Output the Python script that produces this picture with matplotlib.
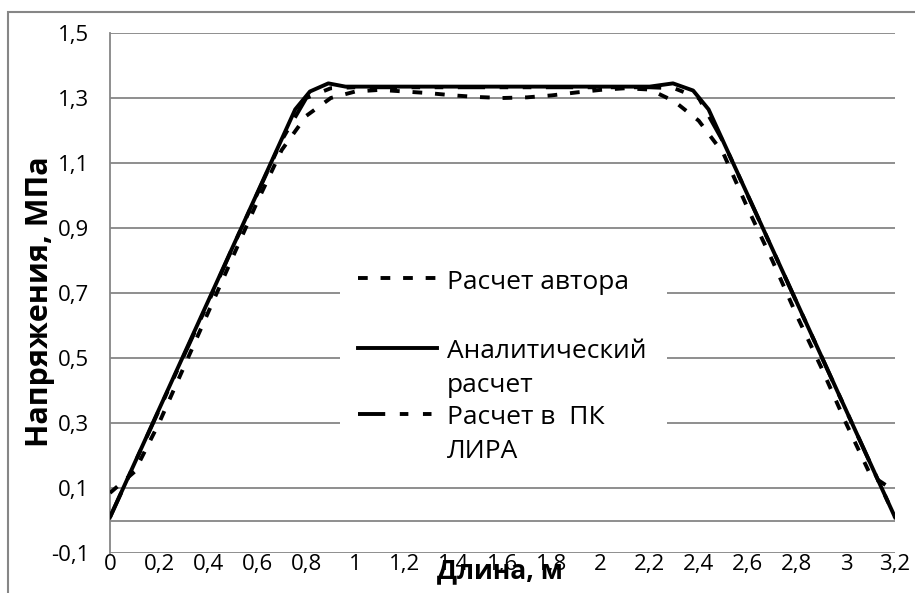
import matplotlib
import matplotlib.pyplot as plt
from matplotlib.patches import Rectangle
from matplotlib.legend_handler import HandlerLine2D
matplotlib.use('Agg')

# Расчет автора
x_author = [0, 0.1, 0.2, 0.3, 0.4, 0.5, 0.6, 0.7, 0.8, 0.9, 1.0, 1.1,
            1.2, 1.3, 1.4, 1.5, 1.6, 1.7, 1.8, 1.9, 2.0, 2.1, 2.2, 2.3,
            2.4, 2.5, 2.6, 2.7, 2.8, 2.9, 3.0, 3.1, 3.2]
y_author = [0.085, 0.15, 0.30, 0.47, 0.64, 0.81, 0.98, 1.14, 1.245, 1.30,
            1.32, 1.325, 1.32, 1.315, 1.308, 1.303, 1.30, 1.302, 1.308,
            1.317, 1.325, 1.33, 1.326, 1.29, 1.23, 1.13, 0.96, 0.80, 0.63,
            0.47, 0.30, 0.14, 0.09]

# Аналитический расчет
x_anal = [0, 0.755, 0.815, 0.89, 0.96, 1.6, 2.2, 2.295, 2.377, 2.44, 3.2]
y_anal = [0.01, 1.265, 1.32, 1.345, 1.335, 1.335, 1.335, 1.345, 1.323,
          1.265, 0.01]

# Расчет в ПК ЛИРА
x_lira = [0, 0.1, 0.2, 0.3, 0.4, 0.5, 0.6, 0.7, 0.8, 0.9, 1.0, 1.6,
          2.2, 2.3, 2.4, 2.5, 2.6, 2.7, 2.8, 2.9, 3.0, 3.1, 3.2]
y_lira = [0.01, 0.175, 0.34, 0.505, 0.67, 0.84, 1.005, 1.17, 1.30, 1.33,
          1.333, 1.333, 1.333, 1.33, 1.30, 1.165, 1.0, 0.835, 0.67, 0.505,
          0.34, 0.175, 0.01]

x_ticks = [0, 0.2, 0.4, 0.6, 0.8, 1, 1.2, 1.4, 1.6, 1.8, 2, 2.2, 2.4,
           2.6, 2.8, 3, 3.2]
x_labels = ['0', '0,2', '0,4', '0,6', '0,8', '1', '1,2', '1,4', '1,6',
            '1,8', '2', '2,2', '2,4', '2,6', '2,8', '3', '3,2']
y_ticks = [-0.1, 0.1, 0.3, 0.5, 0.7, 0.9, 1.1, 1.3, 1.5]
y_labels = ['-0,1', '0,1', '0,3', '0,5', '0,7', '0,9', '1,1', '1,3', '1,5']

series_labels = ['Расчет автора', 'Аналитический\nрасчет',
                 'Расчет в  ПК\nЛИРА']


class FirstLineHandler(HandlerLine2D):
    # keeps the legend key level with the first line of a wrapped label
    def __init__(self, shift=0.0, **kw):
        super().__init__(**kw)
        self.shift = shift

    def create_artists(self, legend, orig_handle, xdescent, ydescent,
                       width, height, fontsize, trans):
        arts = super().create_artists(legend, orig_handle, xdescent,
                                      ydescent, width, height, fontsize,
                                      trans)
        for a in arts:
            a.set_ydata([y + self.shift for y in a.get_ydata()])
        return arts


def main():
    plt.rcParams['font.family'] = ['Open Sans', 'DejaVu Sans']
    grey = '#868686'

    fig = plt.figure(figsize=(9.15, 5.93), dpi=100)
    fig.patches.append(Rectangle((8 / 915, -0.1), 1.2, 1.08,
                                 transform=fig.transFigure, fill=False,
                                 edgecolor=grey, lw=1.5))
    ax = fig.add_axes([110 / 915, 1 - 553 / 593, 785 / 915, 520 / 593])

    lw = 2.8
    styles = [dict(dashes=(2.5, 3.3)), dict(),
              dict(dashes=(7, 3.75, 2.2, 3.75, 2.2, 3.75))]
    lines = []
    for xs, ys, st, lab, z in zip([x_author, x_anal, x_lira],
                                  [y_author, y_anal, y_lira],
                                  styles, series_labels, [3, 4, 3]):
        ln, = ax.plot(xs, ys, color='black', lw=lw, label=lab, zorder=z,
                      **st)
        lines.append(ln)

    ax.set_xlim(0, 3.2)
    ax.set_ylim(-0.1, 1.5)
    ax.set_xticks(x_ticks, labels=x_labels)
    ax.set_yticks(y_ticks, labels=y_labels)
    ax.tick_params(length=0, labelsize=16, colors='black')
    ax.tick_params(axis='y', pad=15)
    ax.tick_params(axis='x', pad=1)
    ax.grid(axis='y', color=grey, lw=1.3)
    ax.axhline(0, color=grey, lw=1.3, zorder=1)
    for side in ['top', 'right', 'bottom']:
        ax.spines[side].set_visible(False)
    ax.spines['left'].set_color(grey)
    ax.spines['left'].set_linewidth(1.3)

    fig.text(500 / 915, 1 - 571 / 593, 'Длина, м', fontsize=19,
             fontweight='bold', ha='center', va='center')
    fig.text(40 / 915, 1 - 302 / 593, 'Напряжения, МПа', fontsize=22,
             fontweight='bold', ha='center', va='center', rotation=90)

    # legend box
    ax.add_patch(Rectangle((0.293, 0.16), 0.417, 0.44, transform=ax.transAxes,
                           facecolor='white', edgecolor='none', zorder=2))
    tops = [270, 339, 405]
    for ln, lab, top in zip(lines, series_labels, tops):
        nlines = lab.count('\n') + 1
        shift = 1.5 + (nlines - 1) * 13.5
        leg = fig.legend([ln], [lab], loc='upper left',
                         bbox_to_anchor=(358 / 915, 1 - top / 593),
                         fontsize=19, frameon=False, borderpad=0,
                         borderaxespad=0, handlelength=3.0,
                         handletextpad=0.38,
                         handler_map={ln: FirstLineHandler(shift=shift)})
        for t in leg.get_texts():
            t.set_linespacing(1.45)

    plt.savefig("out.png", dpi=100)


if __name__ == "__main__":
    main()
